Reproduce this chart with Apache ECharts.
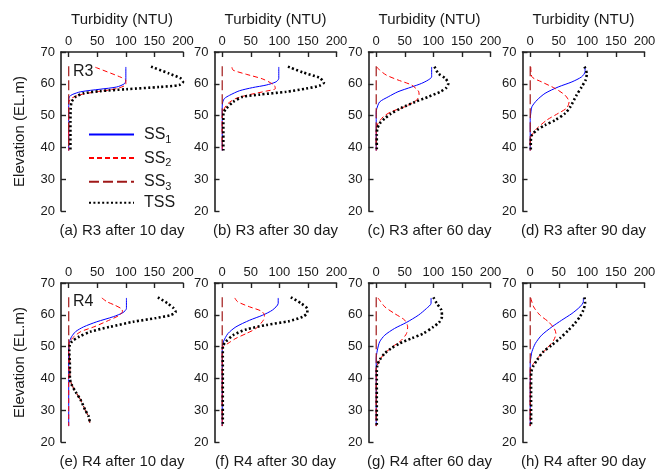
<!DOCTYPE html>
<html>
<head>
<meta charset="utf-8">
<script src="https://cdn.jsdelivr.net/npm/echarts@6/dist/echarts.min.js"></script>
<style>
html,body{margin:0;padding:0;background:#fff;}
#chart{width:662px;height:473px;}
</style>
</head>
<body>
<div id="chart"></div>
<script>
// ---------- data: [turbidity (NTU), elevation (EL.m)] ----------
// (a) R3 after 10 day
const a_SS1 = [[100,65.3],[100,61.5],[98,60.1],[84,59],[55,58.3],[21,57.5],[6,56.6],[1,55.9],[0,55],[0,39]];
const a_SS2 = [[46.5,65.2],[92,62],[100,61],[100,59.8],[84,58.5],[49,57.5],[21,56.6],[6,55.6],[2,54.9],[0,54],[0,39]];
const a_SS3 = [[0,65.5],[0,39]];
const a_TSS = [[144,65.4],[176,63.2],[196,61.7],[200,60.6],[193,59.6],[159,59],[101,58.3],[55,57.7],[26,57],[12,55.9],[5,54.3],[3.5,52.2],[3,48],[3,39]];
// (b) R3 after 30 day
const b_SS1 = [[99,65.3],[99,61.7],[94,60.6],[77,59.6],[53,58.8],[30,57.8],[13,56.4],[4,55.4],[1,54.3],[0,53],[0,39]];
const b_SS2 = [[17,65.2],[19,64.3],[42,63],[71,61.5],[91,59.6],[93,58.5],[77,57.7],[48,56.6],[24,55.4],[10,53.8],[4,52.3],[1,50.7],[0,49.5],[0,39]];
const b_SS3 = [[0,65.5],[0,39]];
const b_TSS = [[115,65.4],[141,63.6],[170,61.9],[178,60.4],[170,59.4],[147,58.5],[112,57.5],[65,56.6],[36,55.9],[19,54.3],[7,52.2],[2,50.7],[2,39]];
// (c) R3 after 60 day
const c_SS1 = [[97,65.3],[97,62.2],[91,61.2],[79,60.1],[62,59],[38,57.5],[21,55.9],[6,54.3],[1,52.2],[0,51],[0,39]];
const c_SS2 = [[1,65.3],[6,64.3],[18,62.7],[38,61.2],[62,59.6],[74,57.7],[75,56.6],[71,54.9],[50,52.8],[26,51.2],[12,49.6],[3,47.5],[0.5,46.5],[0,45],[0,39]];
const c_SS3 = [[0,65.5],[0,39]];
const c_TSS = [[102,65.4],[109,63.2],[121,61.7],[126,60.1],[123,58.8],[112,57.5],[91,55.9],[68,54.3],[44,52.4],[26,50.6],[15,49.1],[6,47.5],[2,45.9],[1,44],[1,39]];
// (d) R3 after 90 day
const d_SS1 = [[96,65.3],[96,63.8],[90,62.2],[73,60.6],[49,59],[26,57],[12,54.9],[3,52.8],[1,50.7],[0,49],[0,39]];
const d_SS2 = [[1,65.3],[3,62.2],[20,60.6],[44,58.5],[61,56.4],[68,54.3],[64,52.4],[49,50.7],[29,48.6],[12,46],[3,43.9],[1,42.8],[0,41.5],[0,39]];
const d_SS3 = [[0,65.5],[0,39]];
const d_TSS = [[95,65.4],[99,63.2],[97,61.2],[90,59],[81,56.4],[70,52.7],[61,50.7],[44,48.6],[26,47],[12,45.5],[3,43.9],[1,41.8],[1,39]];
// (e) R4 after 10 day
const e_SS1 = [[101,65.3],[101,62],[95,60.7],[78,59.4],[49,57.8],[26,56.2],[12,54.7],[5,53.1],[1,51.5],[0,50.5],[0,25]];
const e_SS2 = [[58,65.3],[67,64.1],[81,63],[93,61.8],[94,61],[87,59.7],[67,58],[44,56.2],[21,54.7],[9,53.1],[2,51.7],[0,50.5],[0,25]];
const e_SS3 = [[0,65.5],[0,52],[1,48],[2,44],[2,40],[5,38.1],[12,35.8],[21,33.2],[29,30],[35,28],[37,26]];
const e_TSS = [[156,65.5],[173,63.6],[184,62],[187,60.9],[178,59.9],[153,59],[113,57.8],[72,56.2],[38,54.7],[18,53.1],[6,51.7],[2,50.5],[1,48.4],[2,44.2],[2,40],[5,38.1],[12,35.8],[21,33.2],[29,30],[35,28],[37,26]];
// (f) R4 after 30 day
const f_SS1 = [[98,65.3],[98,63.6],[88,61.5],[71,59.9],[48,58.3],[24,56.2],[10,54.1],[2,51.5],[0.5,50],[0,49],[0,25]];
const f_SS2 = [[22,65.3],[27,64.1],[48,62.5],[68,61.2],[74,59.9],[72,58.3],[59,55.7],[42,54.1],[24,52.6],[10,51],[2,50],[0,49],[0,25]];
const f_SS3 = [[0,65.5],[0,25]];
const f_TSS = [[120,65.5],[138,63.6],[149,61.8],[149,60.7],[141,59.4],[117,58],[77,56.8],[42,55.4],[19,53.6],[6,51.5],[1,50],[1,25]];
// (g) R4 after 60 day
const g_SS1 = [[96,65.3],[96,63.6],[88,62],[74,59.9],[53,57.6],[32,55.7],[15,53.6],[6,51.5],[2,48.9],[0.5,47.3],[0,46],[0,25]];
const g_SS2 = [[3,65.3],[6,64.6],[15,62.5],[32,60.4],[50,58.3],[55,56.2],[53,54.1],[44,52],[29,50],[15,47.9],[6,45.8],[2,44.2],[0,43],[0,25]];
const g_SS3 = [[0,65.5],[0,25]];
const g_TSS = [[100,65.5],[106,63.6],[114,61.5],[115,59.4],[110,57.6],[100,56.2],[82,54.1],[62,52.6],[41,51],[26,49.4],[15,47.9],[6,45.8],[2,44.2],[1,42],[1,25]];
// (h) R4 after 90 day
const h_SS1 = [[93,65.3],[93,64.1],[87,62.5],[73,60.4],[55,58.3],[38,56.2],[20,53.6],[9,51],[3,48.4],[1,46.3],[0,45],[0,25]];
const h_SS2 = [[1,65.3],[6,62.5],[17,59.9],[32,57.8],[42,55.7],[45,54.1],[41,52],[29,49.4],[15,46.8],[6,44.7],[2,43.7],[0,42.5],[0,25]];
const h_SS3 = [[0,65.5],[0,25]];
const h_TSS = [[95,65.5],[96,63.6],[93,61.5],[87,59.4],[78,57.3],[67,55.2],[52,52.6],[38,50.5],[23,48.4],[12,45.8],[5,43.7],[2,42.1],[1.5,40],[1.5,25]];

const captions = ['(a) R3 after 10 day','(b) R3 after 30 day','(c) R3 after 60 day','(d) R3 after 90 day',
                  '(e) R4 after 10 day','(f) R4 after 30 day','(g) R4 after 60 day','(h) R4 after 90 day'];
const seriesNames = ['SS1','SS2','SS3','TSS'];
const xTicks = [0,50,100,150,200];
const xTitle = 'Turbidity (NTU)';
const yTitle = 'Elevation (EL.m)';
const rowLabels = ['R3','R4'];

const panelData = [
  [a_SS1,a_SS2,a_SS3,a_TSS],[b_SS1,b_SS2,b_SS3,b_TSS],[c_SS1,c_SS2,c_SS3,c_TSS],[d_SS1,d_SS2,d_SS3,d_TSS],
  [e_SS1,e_SS2,e_SS3,e_TSS],[f_SS1,f_SS2,f_SS3,f_TSS],[g_SS1,g_SS2,g_SS3,g_TSS],[h_SS1,h_SS2,h_SS3,h_TSS]
];

// ---------- layout / style ----------
const FONT = '"Liberation Sans", Arial, Helvetica, sans-serif';
const TXT = '#1a1a1a';
const AX = '#222';
const lefts = [61, 214.5, 368.5, 522.5];
const tops = [52, 283];
const GW = 122, GH = 159;

const lineStyles = [
  {color:'#0000ff', width:1, type:'solid'},
  {color:'#ff0000', width:1, type:[5,3]},
  {color:'#a01818', width:1.2, type:[10,4]},
  {color:'#000000', width:2.6, type:[2,2.4]}
];

const grids = [], xAxes = [], yAxes = [], series = [], graphics = [];
for (let i = 0; i < 8; i++) {
  const col = i % 4, row = Math.floor(i / 4);
  grids.push({left: lefts[col], top: tops[row], width: GW, height: GH, containLabel: false});
  xAxes.push({
    type:'value', gridIndex:i, position:'top', min:-13.5, max:200,
    axisLine:{show:true, onZero:false, lineStyle:{color:AX, width:1.6}},
    axisTick:{show:true, inside:true, length:5, customValues:xTicks, lineStyle:{color:AX, width:1.4}},
    axisLabel:{show:true, customValues:xTicks, margin:4, fontSize:13, fontFamily:FONT, color:TXT},
    splitLine:{show:false}
  });
  yAxes.push({
    type:'value', gridIndex:i, min:20, max:70, interval:10,
    axisLine:{show:true, onZero:false, lineStyle:{color:AX, width:1.6}},
    axisTick:{show:true, inside:true, length:5, lineStyle:{color:AX, width:1.4}},
    axisLabel:{show:true, margin:6, fontSize:13, fontFamily:FONT, color:TXT},
    splitLine:{show:false}
  });
  for (let s = 0; s < 4; s++) {
    series.push({
      type:'line', name:seriesNames[s], xAxisIndex:i, yAxisIndex:i,
      data: panelData[i][s], symbol:'none', smooth: s === 2 ? false : 0.25,
      lineStyle: lineStyles[s], itemStyle:{color: lineStyles[s].color},
      silent:true, z: 2 + s
    });
  }
  const cx = lefts[col] + GW / 2;
  graphics.push({type:'text', x:cx, y: row === 0 ? 231 : 462,
    style:{text:captions[i], font:'15px ' + FONT, fill:TXT, align:'center', verticalAlign:'middle', textAlign:'center', textVerticalAlign:'middle'}});
  if (row === 0) {
    graphics.push({type:'text', x:cx, y:20,
      style:{text:xTitle, font:'15px ' + FONT, fill:TXT, align:'center', verticalAlign:'middle', textAlign:'center', textVerticalAlign:'middle'}});
  }
}
for (let r = 0; r < 2; r++) {
  graphics.push({type:'text', x:20, y: tops[r] + GH / 2, rotation: Math.PI / 2,
    style:{text:yTitle, font:'15px ' + FONT, fill:TXT, align:'center', verticalAlign:'middle', textAlign:'center', textVerticalAlign:'middle'}});
  graphics.push({type:'text', x:73, y: r === 0 ? 72 : 302,
    style:{text:rowLabels[r], font:'16px ' + FONT, fill:TXT, align:'left', verticalAlign:'middle', textAlign:'left', textVerticalAlign:'middle'}});
}

const chart = echarts.init(document.getElementById('chart'), null, {renderer:'canvas'});
chart.setOption({
  animation:false,
  backgroundColor:'#ffffff',
  grid: grids, xAxis: xAxes, yAxis: yAxes, series: series,
  legend: {
    orient:'vertical', left:83, top:119, padding:5, itemWidth:45, itemHeight:14, itemGap:2.6,
    data: seriesNames, selectedMode:false,
    itemStyle:{opacity:0},
    formatter: function (n) {
      if (n.indexOf('SS') === 0 && n.length === 3) return '{b|SS}{s|' + n.charAt(2) + '}';
      return '{b|' + n + '}';
    },
    textStyle:{
      color:TXT, fontFamily:FONT, padding:[0,0,0,5],
      rich:{
        b:{fontSize:16, fontFamily:FONT, color:TXT, lineHeight:18},
        s:{fontSize:11, fontFamily:FONT, color:TXT, lineHeight:12, padding:[10,0,0,0]}
      }
    }
  },
  graphic: graphics
});
</script>
</body>
</html>
